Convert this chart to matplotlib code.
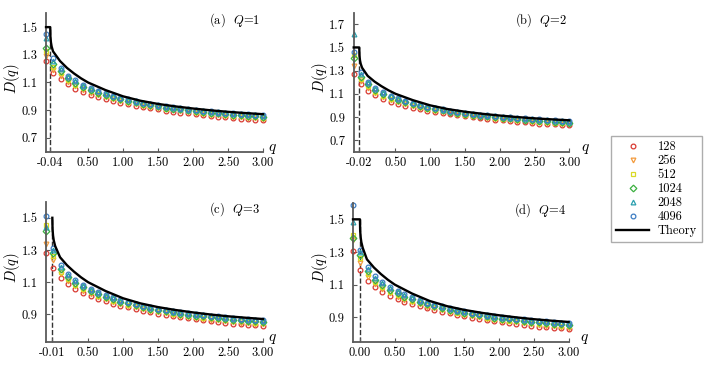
import matplotlib
matplotlib.use("Agg")
import matplotlib.pyplot as plt
from matplotlib.ticker import FixedLocator, FixedFormatter

plt.rcParams['font.family'] = 'cmr10'
plt.rcParams['mathtext.fontset'] = 'cm'
plt.rcParams['axes.formatter.use_mathtext'] = True
plt.rcParams['font.size'] = 9

# system sizes
sizes = ['128', '256', '512', '1024', '2048', '4096']
colors = ['#d93a32', '#f39a3c', '#d9d925', '#3bb03f', '#2a9fae', '#3c7cc2']
markers = ['o', 'v', 's', 'D', '^', 'o']

# q grid shared by all panels (after the two leading points)
q_head = [-0.1, 0.0]
q_tail = [0.11, 0.21, 0.32, 0.43, 0.54, 0.64, 0.75, 0.86, 0.96, 1.07,
          1.18, 1.29, 1.39, 1.50, 1.61, 1.71, 1.82, 1.93, 2.04, 2.14,
          2.25, 2.36, 2.46, 2.57, 2.68, 2.79, 2.89, 3.00]

# D(q) for q > 0 (practically the same in all four panels)
d128 = [1.125, 1.087, 1.056, 1.032, 1.012, 0.995, 0.980, 0.967, 0.955, 0.944,
        0.933, 0.923, 0.914, 0.905, 0.897, 0.890, 0.883, 0.876, 0.870, 0.864,
        0.858, 0.853, 0.848, 0.843, 0.839, 0.835, 0.831, 0.827]
d256 = [1.149, 1.106, 1.074, 1.047, 1.026, 1.008, 0.993, 0.979, 0.965, 0.954,
        0.943, 0.933, 0.923, 0.914, 0.906, 0.899, 0.892, 0.886, 0.880, 0.874,
        0.868, 0.863, 0.858, 0.853, 0.849, 0.845, 0.841, 0.837]
d512 = [1.165, 1.118, 1.085, 1.057, 1.036, 1.017, 1.001, 0.986, 0.972, 0.961,
        0.950, 0.939, 0.929, 0.920, 0.912, 0.905, 0.898, 0.892, 0.886, 0.880,
        0.875, 0.870, 0.865, 0.860, 0.856, 0.852, 0.848, 0.844]
d1024 = [1.181, 1.131, 1.097, 1.068, 1.046, 1.026, 1.009, 0.994, 0.979, 0.968,
         0.956, 0.945, 0.936, 0.927, 0.919, 0.912, 0.905, 0.898, 0.892, 0.887,
         0.882, 0.877, 0.872, 0.868, 0.864, 0.860, 0.856, 0.852]
d2048 = [1.195, 1.142, 1.108, 1.077, 1.054, 1.035, 1.017, 1.001, 0.986, 0.974,
         0.962, 0.951, 0.941, 0.932, 0.924, 0.917, 0.910, 0.904, 0.898, 0.893,
         0.888, 0.883, 0.878, 0.874, 0.870, 0.866, 0.862, 0.858]
d4096 = [1.205, 1.150, 1.115, 1.083, 1.060, 1.040, 1.022, 1.006, 0.990, 0.978,
         0.966, 0.955, 0.945, 0.936, 0.928, 0.921, 0.914, 0.908, 0.902, 0.897,
         0.892, 0.887, 0.882, 0.878, 0.874, 0.870, 0.866, 0.862]
tails = [d128, d256, d512, d1024, d2048, d4096]

# leading points (q=-0.1 and q=0), order 128 ... 4096
a_neg = [1.254, 1.292, 1.326, 1.350, 1.420, 1.448]
a_zero = [1.168, 1.190, 1.213, 1.235, 1.254, 1.278]
b_neg = [1.272, 1.340, 1.436, 1.405, 1.617, 1.464]
b_zero = [1.185, 1.210, 1.225, 1.245, 1.268, 1.292]
c_neg = [1.284, 1.335, 1.457, 1.415, 1.442, 1.514]
c_zero = [1.188, 1.236, 1.260, 1.281, 1.300, 1.312]
d_neg = [1.305, 1.375, 1.406, 1.385, 1.482, 1.587]
d_zero = [1.190, 1.235, 1.260, 1.280, 1.300, 1.315]

# theory curve
q_crit = [-0.04, -0.02, -0.01, 0.00]
theory_head_dq = [0.0, 0.003, 0.01, 0.02, 0.04]
theory_head_d = [1.50, 1.43, 1.39, 1.36, 1.325]
theory_q = [0.1, 0.2, 0.3, 0.4, 0.5, 0.75, 1.0, 1.25, 1.5, 1.75, 2.0, 2.25, 2.5, 2.75, 3.0]
theory_d = [1.255, 1.205, 1.165, 1.130, 1.100, 1.045, 1.000, 0.968, 0.945, 0.927,
            0.912, 0.899, 0.888, 0.879, 0.871]

panel_tags = ['(a)', '(b)', '(c)', '(d)']
Q_values = [1, 2, 3, 4]
heads = [(a_neg, a_zero), (b_neg, b_zero), (c_neg, c_zero), (d_neg, d_zero)]
ylims = [(0.6, 1.6), (0.6, 1.8), (0.73, 1.6), (0.75, 1.6)]
yticks = [[0.7, 0.9, 1.1, 1.3, 1.5],
          [0.7, 0.9, 1.1, 1.3, 1.5, 1.7],
          [0.9, 1.1, 1.3, 1.5],
          [0.9, 1.1, 1.3, 1.5]]
flat_top = [True, True, False, True]

fig = plt.figure(figsize=(7.06, 3.65), dpi=100)
rects = [[0.0652, 0.5844, 0.3074, 0.3792],
         [0.501, 0.5844, 0.3054, 0.3808],
         [0.0652, 0.0638, 0.3074, 0.3836],
         [0.500, 0.0638, 0.3054, 0.3800]]
q_label_x = [1.042, 1.074, 1.042, 1.074]
tag_x = [0.985, 0.99, 0.985, 0.99]
spine_col = '#5a5a5a'

handles = []
for p in range(4):
    ax = fig.add_axes(rects[p])
    qc = q_crit[p]
    neg, zero = heads[p]

    # dashed line at the critical q
    ax.plot([qc, qc], [ylims[p][0], 1.5], ls='--', color='#333333', lw=1.0, zorder=1)

    for i in range(6):
        qs = q_head + q_tail
        ds = [neg[i], zero[i]] + tails[i]
        ln, = ax.plot(qs, ds, ls='none', marker=markers[i], ms=3.4, mew=0.9,
                      mfc='none', mec=colors[i], clip_on=False, zorder=2,
                      label=sizes[i])
        if p == 0:
            handles.append(ln)

    tq = [qc + dq for dq in theory_head_dq] + theory_q
    td = theory_head_d + theory_d
    if flat_top[p]:
        tq = [-0.1] + tq
        td = [1.5] + td
    th, = ax.plot(tq, td, color='black', lw=1.7, zorder=3, clip_on=False,
                  label='Theory')
    if p == 0:
        handles.append(th)

    ax.set_xlim(-0.1, 3.0)
    ax.set_ylim(*ylims[p])
    for s in ['top', 'right']:
        ax.spines[s].set_visible(False)
    for s in ['left', 'bottom']:
        ax.spines[s].set_color(spine_col)
        ax.spines[s].set_linewidth(1.3)

    xt = [qc, 0.5, 1.0, 1.5, 2.0, 2.5, 3.0]
    ax.xaxis.set_major_locator(FixedLocator(xt))
    ax.xaxis.set_major_formatter(FixedFormatter(['%.2f' % v for v in xt]))
    ax.yaxis.set_major_locator(FixedLocator(yticks[p]))
    ax.yaxis.set_major_formatter(FixedFormatter(['%.1f' % v for v in yticks[p]]))
    ax.tick_params(direction='in', length=3, width=0.8, color=spine_col,
                   labelsize=9)
    ax.tick_params(axis='x', pad=4)
    ax.tick_params(axis='y', pad=6)

    # y label as plain text so its centre can be placed directly
    ax.text(-0.155, 0.53, '$D(q)$', transform=ax.transAxes, fontsize=10.5,
            rotation=90, ha='center', va='center')
    ax.text(q_label_x[p], 0.02, '$q$', transform=ax.transAxes, fontsize=11,
            ha='center', va='center')
    ax.text(tag_x[p], 0.95, panel_tags[p] + '  $Q$=%d' % Q_values[p],
            transform=ax.transAxes, ha='right', va='center', fontsize=9)

fig.legend(handles=handles, loc='upper left', bbox_to_anchor=(0.866, 0.628),
           frameon=True, fancybox=False, edgecolor='#999999', fontsize=9,
           handlelength=2.6, labelspacing=0.15, handletextpad=0.7,
           borderpad=0.4, borderaxespad=0.0)

fig.savefig('out.png', dpi=100)
